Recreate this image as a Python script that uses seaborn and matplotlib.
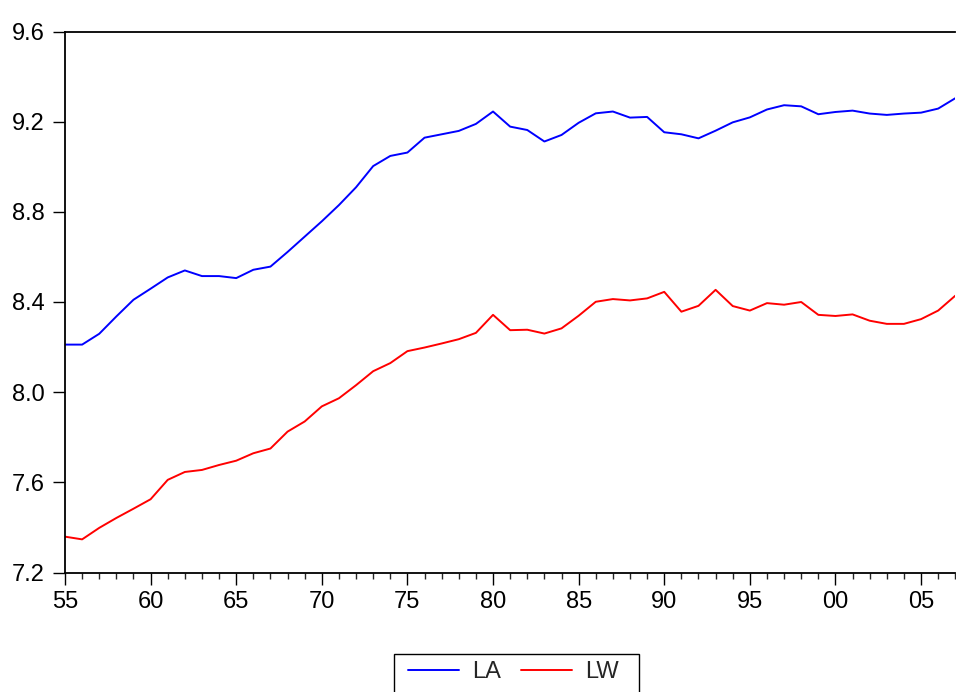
import numpy as np
import pandas as pd
import matplotlib
matplotlib.use("Agg")
import matplotlib.pyplot as plt
import seaborn as sns
from matplotlib.ticker import MultipleLocator, FixedLocator
from matplotlib.lines import Line2D
from matplotlib.patches import Rectangle

years = list(range(1955, 2008))

la = [8.211, 8.211, 8.259, 8.336, 8.410, 8.459, 8.509, 8.540, 8.515, 8.515,
      8.506, 8.543, 8.557, 8.622, 8.690, 8.758, 8.830, 8.909, 9.003, 9.048,
      9.063, 9.129, 9.144, 9.159, 9.190, 9.245, 9.178, 9.163, 9.112, 9.141,
      9.195, 9.237, 9.245, 9.218, 9.221, 9.153, 9.144, 9.126, 9.160, 9.197,
      9.219, 9.254, 9.273, 9.268, 9.233, 9.243, 9.249, 9.236, 9.230, 9.236,
      9.240, 9.258, 9.304]

lw = [7.359, 7.347, 7.398, 7.442, 7.483, 7.525, 7.611, 7.646, 7.655, 7.677,
      7.696, 7.729, 7.750, 7.825, 7.870, 7.937, 7.973, 8.031, 8.093, 8.129,
      8.182, 8.198, 8.216, 8.235, 8.263, 8.343, 8.275, 8.277, 8.260, 8.283,
      8.339, 8.401, 8.413, 8.407, 8.416, 8.445, 8.357, 8.383, 8.454, 8.382,
      8.362, 8.395, 8.388, 8.400, 8.343, 8.338, 8.345, 8.317, 8.303, 8.303,
      8.324, 8.362, 8.428]

series_names = ["LA", "LW"]
colors = {"LA": "#0000ff", "LW": "#ff0000"}
y_ticks = [7.2, 7.6, 8.0, 8.4, 8.8, 9.2, 9.6]
x_ticks = list(range(1955, 2006, 5))
x_labels = ["55", "60", "65", "70", "75", "80", "85", "90", "95", "00", "05"]

df = pd.DataFrame({
    "year": years * 2,
    "value": la + lw,
    "series": ["LA"] * len(years) + ["LW"] * len(years),
})

sns.set_style("ticks")
plt.rcParams["font.family"] = ["Liberation Sans", "DejaVu Sans"]

W, H = 956, 692
fig = plt.figure(figsize=(W / 100, H / 100), dpi=100)
left, right, top, bottom = 65, 955.3, 31.5, 572.5
ax = fig.add_axes([left / W, (H - bottom) / H, (right - left) / W, (bottom - top) / H])

LWIDTH = 1.4
sns.lineplot(data=df, x="year", y="value", hue="series", hue_order=series_names,
             palette=colors, linewidth=LWIDTH, ax=ax, legend=False)

ax.set_xlim(1955, 2007)
ax.set_ylim(7.2, 9.6)
ax.xaxis.set_major_locator(FixedLocator(x_ticks))
ax.set_xticklabels(x_labels)
ax.xaxis.set_minor_locator(MultipleLocator(1))
ax.set_yticks(y_ticks)
ax.set_yticklabels([f"{v:.1f}" for v in y_ticks])
ax.set_xlabel("")
ax.set_ylabel("")

ax.tick_params(axis="both", which="major", labelsize=17, colors="black", width=1.0)
ax.tick_params(axis="x", which="major", length=8.6, direction="out", pad=4.7)
ax.tick_params(axis="x", which="minor", length=4.3, direction="out", width=1.0)
ax.tick_params(axis="y", which="major", length=8.4, direction="out", pad=6.5)

for s in ["left", "top", "bottom"]:
    ax.spines[s].set_visible(True)
    ax.spines[s].set_color("black")
    ax.spines[s].set_linewidth(1.3)
ax.spines["right"].set_visible(False)

# legend frame (extends past the bottom edge as in the reference)
fig.patches.append(Rectangle((393.5 / W, -0.05), (639.3 - 393.5) / W, 0.05 + (H - 654.3) / H,
                             transform=fig.transFigure, fill=False, edgecolor="black",
                             linewidth=1.0, zorder=5))
handles = [Line2D([], [], color=colors[n], linewidth=LWIDTH) for n in series_names]
leg = fig.legend(handles, series_names, loc="center left",
                 bbox_to_anchor=(408 / W, (H - 672) / H), ncol=2, fontsize=17,
                 frameon=False, handlelength=2.16, handletextpad=0.55,
                 columnspacing=0.85, borderpad=0.0, borderaxespad=0.0)

fig.savefig("out.png", dpi=100)
